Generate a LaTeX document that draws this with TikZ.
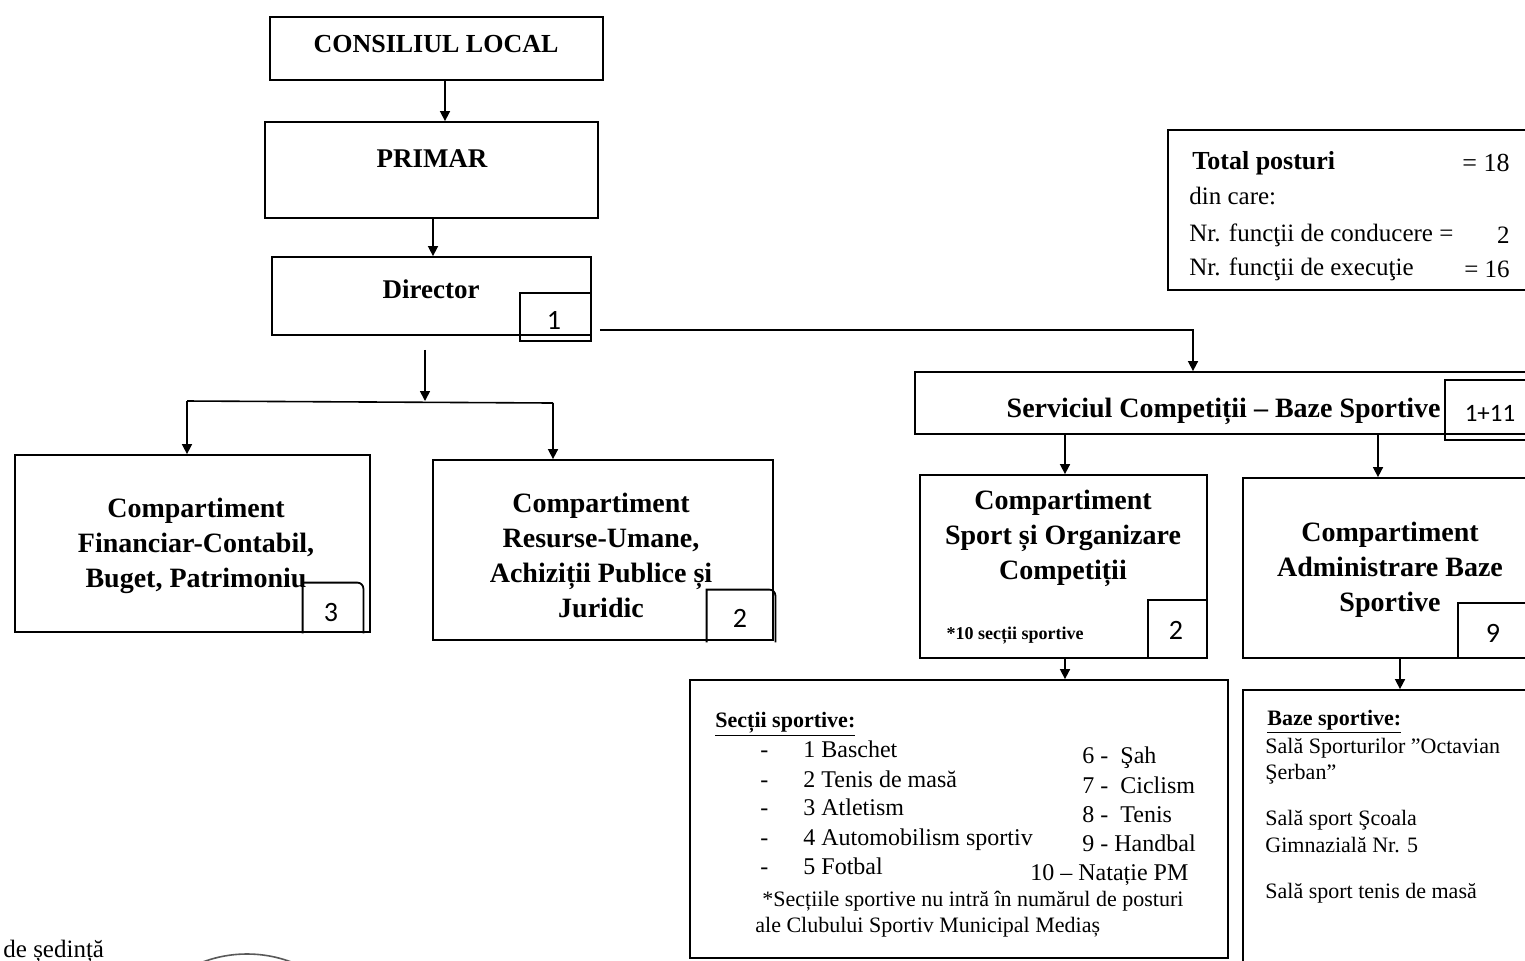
\documentclass[tikz,border=0pt]{standalone}
\usepackage{fontspec}
\setmainfont{Liberation Serif}
\newfontfamily\numfont{Carlito}
\usetikzlibrary{arrows.meta,fit,calc}
\begin{document}
\begin{tikzpicture}[x=0.5pt,y=-0.5pt,
  frame/.style={draw,line width=0.9pt,inner sep=0pt},
  numtxt/.style={inner sep=0pt,font=\numfont\fontsize{14}{16}\selectfont},
  ttl/.style={font=\bfseries\fontsize{14}{17.5}\selectfont,align=center,inner sep=0pt},
  body/.style={font=\fontsize{12}{14}\selectfont,inner sep=0pt,anchor=base west},
  bodye/.style={font=\fontsize{12}{14}\selectfont,inner sep=0pt,anchor=base east},
  small/.style={font=\fontsize{11}{13}\selectfont,inner sep=0pt,anchor=base west},
  arr/.style={-{Triangle[width=5pt,length=5pt]},line width=0.8pt},
  ln/.style={line width=0.8pt}]

\useasboundingbox (0,0) rectangle (1525,960);
\clip (0,0) rectangle (1525,960);

% ---------- top chain ----------
\node[frame,fit={(270,17)(603,80)}] (cl) {};
\node[ttl,font=\bfseries\fontsize{13}{16}\selectfont,anchor=base] (clt) at (436,52) {CONSILIUL LOCAL};

\node[frame,fit={(265,122)(598,218)}] (pr) {};
\node[ttl,font=\bfseries\fontsize{13.5}{16}\selectfont,anchor=base] (prt) at (432,167) {PRIMAR};

\node[frame,fit={(272,257)(591,335)}] (dir) {};
\node[ttl,font=\bfseries\fontsize{13.5}{16}\selectfont,anchor=base] (dirt) at (431,298) {Director};
\node[frame,fit={(520,293)(591,341)}] (dnum) {};
\node[numtxt] (dnumt) at (554,320) {1};

\coordinate (a1) at (445,0);
\coordinate (a2) at (433,0);
\draw[arr] (cl.south -| a1) -- (pr.north -| a1);
\draw[arr] (pr.south -| a2) -- (dir.north -| a2);

% ---------- left branch ----------
\coordinate (j1) at (425,401);
\coordinate (bl) at (187,401);
\coordinate (br) at (553,403);
\draw[arr,shorten <=7pt] (dir.south -| j1) -- (j1);
\draw[ln] (bl) -- (br);

\node[frame,fit={(15,455)(370,632)}] (fin) {};
\node[ttl] (fint) at (196,546) {Compartiment\\Financiar-Contabil,\\Buget, Patrimoniu};
\node[inner sep=0pt,fit={(303,583)(363,633)}] (fnum) {};
\node[numtxt] (fnumt) at (331,612) {3};
\draw[line width=0.9pt] (fnum.south west) |- ([xshift=-3pt]fnum.north east)
   arc[start angle=90,end angle=0,radius=3pt] -- (fnum.south east);

\node[frame,fit={(433,460)(773,640)}] (res) {};
\node[ttl] (rest) at (601,555) {Compartiment\\Resurse-Umane,\\Achiziții Publice și\\Juridic};
\node[inner sep=0pt,fit={(707,590)(775,642)}] (rnum) {};
\node[numtxt] (rnumt) at (740,618) {2};
\draw[line width=0.9pt] (rnum.south west) |- ([xshift=-3pt]rnum.north east)
   arc[start angle=90,end angle=0,radius=3pt] -- (rnum.south east);

\draw[arr] (bl) -- (fin.north -| bl);
\draw[arr] (br) -- (res.north -| br);

% ---------- right branch ----------
\node[frame,fit={(915,372)(1540,434)}] (serv) {};
\node[ttl,anchor=base east] (servt) at (1441,417) {Serviciul Competiții – Baze Sportive};
\node[frame,fit={(1445,380)(1540,440)}] (snum) {};
\node[numtxt,font=\numfont\fontsize{12.5}{14}\selectfont] (snumt) at (1490,413) {1+11};

\coordinate (k) at (1193,330);
\draw[arr,shorten <=4pt] (dnum.east |- k) -| (serv.north -| k);

\node[frame,fit={(920,475)(1207,658)}] (sp) {};
\node[ttl] (spt) at (1063,538) {Compartiment\\Sport și Organizare\\Competiții};
\node[font=\bfseries\fontsize{9}{11}\selectfont,inner sep=0pt] (spn) at (1015,636) {*10 secții sportive};
\node[frame,fit={(1148,600)(1207,658)}] (spnum) {};
\node[numtxt] (spnumt) at (1176,630) {2};

\node[frame,fit={(1243,478)(1540,658)}] (adm) {};
\node[ttl] (admt) at (1390,570) {Compartiment\\Administrare Baze\\Sportive};
\node[frame,fit={(1458,603)(1540,658)}] (anum) {};
\node[numtxt] (anumt) at (1493,633) {9};

\coordinate (c1) at (1065,0);
\coordinate (c2) at (1378,0);
\coordinate (c3) at (1400,0);
\draw[arr] (serv.south -| c1) -- (sp.north -| c1);
\draw[arr] (serv.south -| c2) -- (adm.north -| c2);

% ---------- Sectii sportive ----------
\node[frame,fit={(690,680)(1228,958)}] (sec) {};
\draw[arr] (sp.south -| c1) -- (sec.north -| c1);

\node[small,font=\bfseries\fontsize{11}{13}\selectfont] (sech) at (715,727) {\underline{Secții sportive:}};
\node[body] (d1) at (760,757) {-};
\node[body] (d2) at (760,787) {-};
\node[body] (d3) at (760,815) {-};
\node[body] (d4) at (760,845) {-};
\node[body] (d5) at (760,874) {-};
\node[body] (s1) at (803,757) {1 Baschet};
\node[body] (s2) at (803,787) {2 Tenis de masă};
\node[body] (s3) at (803,815) {3 Atletism};
\node[body] (s4) at (803,845) {4 Automobilism sportiv};
\node[body] (s5) at (803,874) {5 Fotbal};
\node[body] (s6) at (1082,763) {6 -\ \ Şah};
\node[body] (s7) at (1082,793) {7 -\ \ Ciclism};
\node[body] (s8) at (1082,822) {8 -\ \ Tenis};
\node[body] (s9) at (1082,851) {9 - Handbal};
\node[body] (s10) at (1030,880) {10 – Natație PM};
\node[small] (f1) at (762,906) {*Secțiile sportive nu intră în numărul de posturi};
\node[small] (f2) at (755,932) {ale Clubului Sportiv Municipal Mediaș};

% ---------- Baze sportive ----------
\node[frame,fit={(1243,690)(1540,970)}] (baz) {};
\draw[arr] (adm.south -| c3) -- (baz.north -| c3);
\node[small,font=\bfseries\fontsize{11}{13}\selectfont] (bh) at (1267,725) {\underline{Baze sportive:}};
\node[small] (b1) at (1265,753) {Sală Sporturilor "Octavian};
\node[small] (b2) at (1265,779) {Şerban"};
\node[small] (b3) at (1265,825) {Sală sport Şcoala};
\node[small] (b4) at (1265,852) {Gimnazială Nr. 5};
\node[small] (b5) at (1265,898) {Sală sport tenis de masă};

% ---------- Total posturi ----------
\node[frame,fit={(1168,130)(1540,290)}] (tot) {};
\node[body,font=\bfseries\fontsize{13}{15}\selectfont] (t1) at (1192,169) {Total posturi};
\node[bodye,font=\fontsize{13}{15}\selectfont] (t1v) at (1510,171) {= 18};
\node[body,font=\fontsize{12.5}{15}\selectfont] (t2) at (1189,204) {din care:};
\node[body,font=\fontsize{12.5}{15}\selectfont] (t3) at (1189,241) {Nr. funcţii de conducere =};
\node[bodye,font=\fontsize{12.5}{15}\selectfont] (t3v) at (1510,243) {2};
\node[body,font=\fontsize{12.5}{15}\selectfont] (t4) at (1189,275) {Nr. funcţii de execuţie};
\node[bodye,font=\fontsize{12.5}{15}\selectfont] (t4v) at (1510,277) {= 16};

% ---------- bottom fragment ----------
\node[body,font=\fontsize{12.5}{15}\selectfont] (frag) at (3,957) {de ședință};
\draw[gray!70!black,line width=0.8pt] (247,1080) circle[radius=126];
\end{tikzpicture}
\end{document}
